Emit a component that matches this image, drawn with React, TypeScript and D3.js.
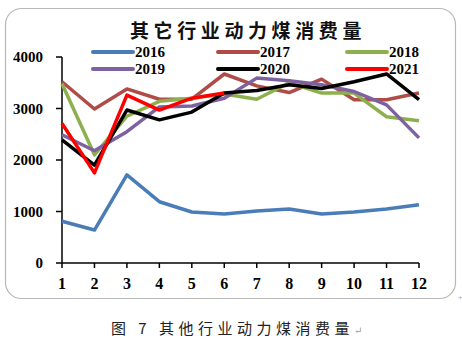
import React from "react";
import * as d3 from "d3";

const months = [1, 2, 3, 4, 5, 6, 7, 8, 9, 10, 11, 12];
const yTicks = [0, 1000, 2000, 3000, 4000];
const s2016 = [810, 640, 1710, 1190, 990, 950, 1010, 1050, 950, 990, 1050, 1130];
const s2017 = [3520, 2990, 3380, 3180, 3180, 3670, 3440, 3310, 3570, 3170, 3170, 3300];
const s2018 = [3480, 2100, 2850, 3140, 3200, 3280, 3180, 3500, 3300, 3300, 2840, 2760];
const s2019 = [2490, 2180, 2550, 3030, 3050, 3200, 3590, 3540, 3460, 3330, 3070, 2430];
const s2020 = [2390, 1900, 2970, 2780, 2930, 3300, 3350, 3460, 3390, 3520, 3670, 3170];
const s2021 = [2710, 1750, 3260, 2970, 3200, 3300];

const seriesNames = ["2016", "2017", "2018", "2019", "2020", "2021"];
const seriesData = [s2016, s2017, s2018, s2019, s2020, s2021];
const colors = ["#4A7DB8", "#B04C48", "#8DB04E", "#7E62A0", "#000000", "#FF0000"];

export default function App() {
  const W = 462, H = 344;
  const x = d3.scaleLinear().domain([1, 12]).range([62, 419]);
  const y = d3.scaleLinear().domain([0, 4000]).range([263, 57]);
  const line = d3.line<number>().x((_, i) => x(months[i])).y((d) => y(d));
  const serif = "'Liberation Serif', 'DejaVu Serif', serif";
  const cjk = "'Noto Sans CJK SC', sans-serif";
  const legendPos = [
    [93, 52], [218, 52], [347, 52],
    [93, 69], [218, 69], [347, 69],
  ];
  return (
    <svg width={W} height={H} style={{ position: "absolute", left: 0, top: 0, background: "#fff" }}>
      <rect x={5.5} y={8.5} width={450} height={290} rx={16} ry={16} fill="#fff" stroke="#b8b8b8" strokeWidth={1.2} />
      <text x={248} y={38} textAnchor="middle" fontFamily={cjk} fontWeight="bold" fontSize={19} letterSpacing={4.6} fill="#111">其它行业动力煤消费量</text>
      {/* axes */}
      <line x1={x(1)} x2={x(1)} y1={y(4000)} y2={y(0)} stroke="#000" strokeWidth={1.5} />
      <line x1={x(1)} x2={x(12)} y1={y(0)} y2={y(0)} stroke="#000" strokeWidth={1.5} />
      {yTicks.map((t) => (
        <g key={t}>
          <line x1={x(1) - 6} x2={x(1)} y1={y(t)} y2={y(t)} stroke="#000" strokeWidth={1.5} />
          <text x={43} y={y(t) + 5} textAnchor="end" fontFamily={serif} fontWeight="bold" fontSize={15}>{t}</text>
        </g>
      ))}
      {months.map((m) => (
        <g key={m}>
          <line x1={x(m)} x2={x(m)} y1={y(0)} y2={y(0) + 5} stroke="#000" strokeWidth={1.5} />
          <text x={x(m)} y={289} textAnchor="middle" fontFamily={serif} fontWeight="bold" fontSize={16}>{m}</text>
        </g>
      ))}
      {seriesData.map((s, i) => (
        <path key={i} d={line(s) || ""} fill="none" stroke={colors[i]} strokeWidth={3.5} strokeLinejoin="round" />
      ))}
      {seriesNames.map((n, i) => (
        <g key={n}>
          <line x1={legendPos[i][0]} x2={legendPos[i][0] + 40} y1={legendPos[i][1]} y2={legendPos[i][1]} stroke={colors[i]} strokeWidth={4} strokeLinecap="round" />
          <text x={legendPos[i][0] + 42} y={legendPos[i][1] + 5} fontFamily={serif} fontWeight="bold" fontSize={15}>{n}</text>
        </g>
      ))}
      <text x={458} y={300} fontSize={8} fill="#999" fontFamily={serif}>+</text>
      <text x={111} y={334} fontFamily={cjk} fontSize={15} letterSpacing={4.5} fill="#222">图 7 其他行业动力煤消费量<tspan fontFamily={serif} fontSize={10} fill="#999" letterSpacing={0}>↵</tspan></text>
    </svg>
  );
}
